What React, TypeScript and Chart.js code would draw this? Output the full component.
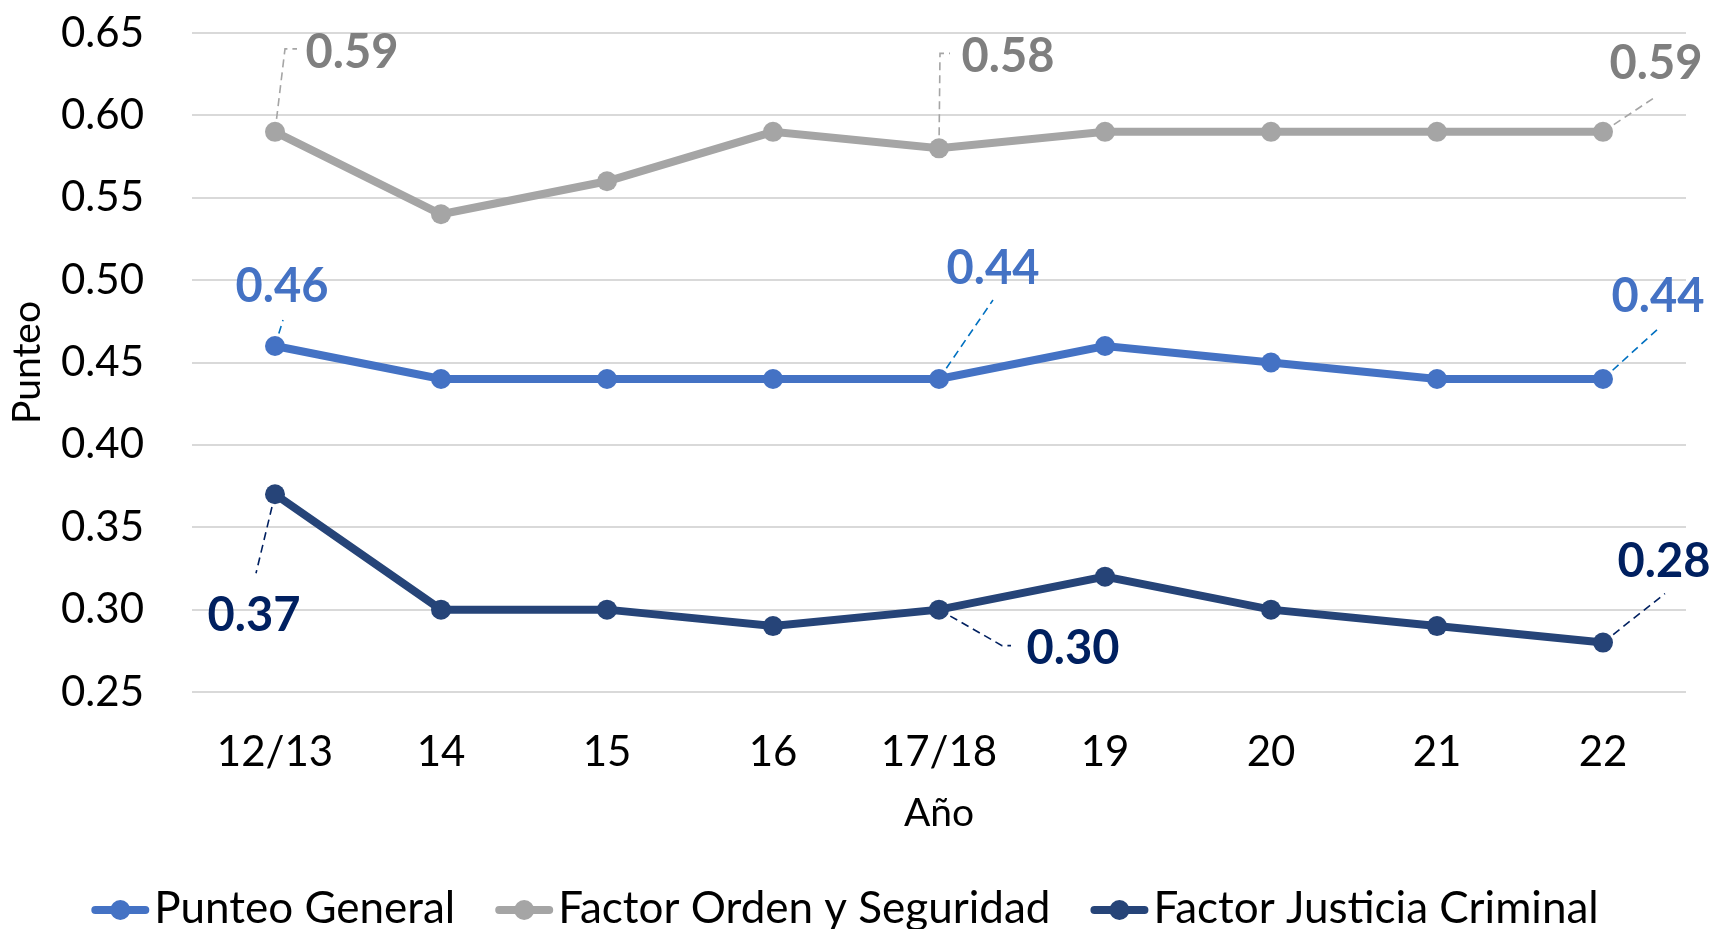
import React, { useEffect, useRef } from "react";
import { Chart, registerables } from "chart.js";

Chart.register(...registerables);

// ---- Data ----
const categories = ["12/13", "14", "15", "16", "17/18", "19", "20", "21", "22"];
const punteoGeneral = [0.46, 0.44, 0.44, 0.44, 0.44, 0.46, 0.45, 0.44, 0.44];
const ordenSeguridad = [0.59, 0.54, 0.56, 0.59, 0.58, 0.59, 0.59, 0.59, 0.59];
const justiciaCriminal = [0.37, 0.3, 0.3, 0.29, 0.3, 0.32, 0.3, 0.29, 0.28];
const yTickValues = [0.25, 0.3, 0.35, 0.4, 0.45, 0.5, 0.55, 0.6, 0.65];
const seriesNames = ["Punteo General", "Factor Orden y Seguridad", "Factor Justicia Criminal"];
const labeledIndices = [0, 4, 8];
const xTitle = "Año";
const yTitle = "Punteo";

// ---- Styles ----
const lineColors = ["#4472C4", "#A5A5A5", "#264478"];
const labelColors = ["#4472C4", "#7F7F7F", "#002060"];
const leaderColors = ["#0070C0", "#A5A5A5", "#002060"];
// offsets (px) of label centre and leader path relative to the data point
const labelOffsets: { dx: number; dy: number; path: number[][] }[][] = [
  [
    { dx: 7, dy: -59, path: [[8, -26]] },
    { dx: 54, dy: -110, path: [[54, -79]] },
    { dx: 55, dy: -82, path: [[56, -51]] },
  ],
  [
    { dx: 77, dy: -79, path: [[10, -83], [22, -83]] },
    { dx: 69, dy: -91, path: [[1, -95], [11, -95]] },
    { dx: 53, dy: -68, path: [[51, -34]] },
  ],
  [
    { dx: -21, dy: 122, path: [[-19, 79]] },
    { dx: 134, dy: 39, path: [[63, 36], [72, 36]] },
    { dx: 61, dy: -81, path: [[62, -49]] },
  ],
];

const FONT = "Lato";

const labelPlugin = {
  id: "leaderLabels",
  beforeDatasetsDraw(chart: any) {
    const ctx = chart.ctx;
    ctx.save();
    ctx.lineWidth = 1.6;
    ctx.setLineDash([8, 5]);
    chart.data.datasets.forEach((_: any, di: number) => {
      const meta = chart.getDatasetMeta(di);
      labeledIndices.forEach((idx, k) => {
        const pt = meta.data[idx];
        const off = labelOffsets[di][k];
        ctx.strokeStyle = leaderColors[di];
        ctx.beginPath();
        ctx.moveTo(pt.x, pt.y);
        off.path.forEach((p) => ctx.lineTo(pt.x + p[0], pt.y + p[1]));
        ctx.stroke();
      });
    });
    ctx.restore();
  },
  afterDatasetsDraw(chart: any) {
    const ctx = chart.ctx;
    ctx.save();
    ctx.font = `bold 47px ${FONT}`;
    ctx.textAlign = "center";
    ctx.textBaseline = "middle";
    chart.data.datasets.forEach((ds: any, di: number) => {
      const meta = chart.getDatasetMeta(di);
      labeledIndices.forEach((idx, k) => {
        const pt = meta.data[idx];
        const off = labelOffsets[di][k];
        ctx.fillStyle = labelColors[di];
        ctx.fillText(Number(ds.data[idx]).toFixed(2), pt.x + off.dx, pt.y + off.dy);
      });
    });
    ctx.restore();
  },
};

const legendPlugin = {
  id: "customLegend",
  afterDraw(chart: any) {
    const ctx = chart.ctx;
    ctx.save();
    ctx.font = `44px ${FONT}`;
    const markerW = 54;
    const gapMarker = 9;
    const gapItems = 40;
    const widths = seriesNames.map((n) => ctx.measureText(n).width);
    const total =
      widths.reduce((a, w) => a + markerW + gapMarker + w, 0) + gapItems * (seriesNames.length - 1);
    let x = 845 - total / 2;
    const baseline = 923;
    const markerY = 910;
    seriesNames.forEach((name, i) => {
      ctx.strokeStyle = lineColors[i];
      ctx.lineWidth = 8;
      ctx.lineCap = "round";
      ctx.setLineDash([]);
      ctx.beginPath();
      ctx.moveTo(x + 4, markerY);
      ctx.lineTo(x + markerW, markerY);
      ctx.stroke();
      ctx.fillStyle = lineColors[i];
      ctx.beginPath();
      ctx.arc(x + 2 + markerW / 2, markerY, 10, 0, Math.PI * 2);
      ctx.fill();
      ctx.fillStyle = "#000";
      ctx.textAlign = "left";
      ctx.textBaseline = "alphabetic";
      ctx.fillText(name, x + markerW + gapMarker, baseline);
      x += markerW + gapMarker + widths[i] + gapItems;
    });
    ctx.restore();
  },
};

export default function App() {
  const ref = useRef<HTMLCanvasElement | null>(null);

  useEffect(() => {
    if (!ref.current) return;
    const seriesData = [punteoGeneral, ordenSeguridad, justiciaCriminal];
    const chart = new Chart(ref.current, {
      type: "line",
      data: {
        labels: categories,
        datasets: seriesData.map((d, i) => ({
          label: seriesNames[i],
          data: d,
          borderColor: lineColors[i],
          backgroundColor: lineColors[i],
          borderWidth: 8,
          pointRadius: 10,
          pointBorderWidth: 0,
          pointBackgroundColor: lineColors[i],
          tension: 0,
          fill: false,
        })),
      },
      options: {
        animation: false,
        responsive: false,
        devicePixelRatio: 1,
        layout: { padding: { left: 0, right: 24, top: 33, bottom: 91 } },
        plugins: {
          legend: { display: false },
          tooltip: { enabled: false },
        },
        scales: {
          x: {
            type: "category",
            offset: true,
            grid: { display: false, drawTicks: false },
            border: { display: false },
            ticks: {
              font: { family: FONT, size: 42 },
              color: "#000",
              padding: 35,
              maxRotation: 0,
              autoSkip: false,
            },
            title: {
              display: true,
              text: xTitle,
              font: { family: FONT, size: 39 },
              color: "#000",
              padding: { top: 0, bottom: 1 },
            },
            afterFit: (s: any) => {
              s.height = 146;
              s.paddingLeft = 0;
              s.paddingRight = 0;
            },
          },
          y: {
            min: 0.25,
            max: 0.65,
            grid: { color: "#D9D9D9", lineWidth: 2, drawTicks: false },
            border: { display: false },
            ticks: {
              font: { family: FONT, size: 42 },
              color: "#000",
              padding: 48,
              callback: (v: any) => Number(v).toFixed(2),
            },
            afterBuildTicks: (s: any) => {
              s.ticks = yTickValues.map((v) => ({ value: v }));
            },
            title: {
              display: true,
              text: yTitle,
              font: { family: FONT, size: 39 },
              color: "#000",
              padding: { top: 4, bottom: 0 },
            },
            afterFit: (s: any) => {
              s.width = 192;
              s.paddingTop = 0;
              s.paddingBottom = 0;
            },
          },
        },
      } as any,
      plugins: [labelPlugin, legendPlugin],
    });
    return () => chart.destroy();
  }, []);

  return (
    <div
      style={{
        position: "fixed",
        left: 0,
        top: 0,
        width: 1710,
        height: 929,
        background: "#fff",
        overflow: "hidden",
      }}
    >
      <canvas ref={ref} width={1710} height={929} style={{ display: "block", width: 1710, height: 929 }} />
    </div>
  );
}
